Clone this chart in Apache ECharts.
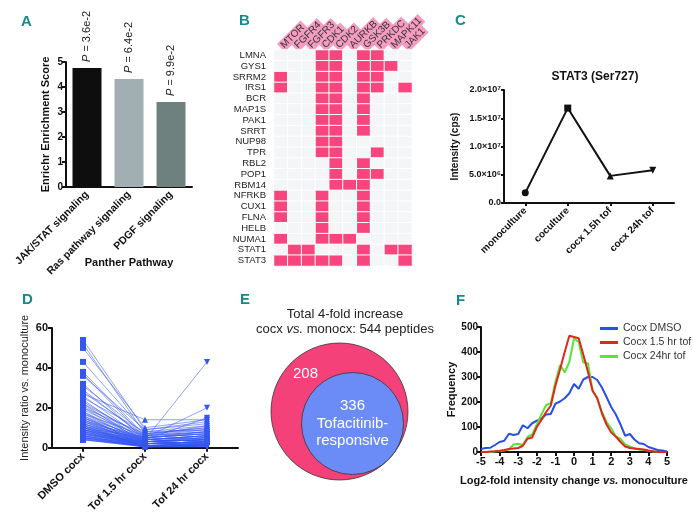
<!DOCTYPE html>
<html>
<head>
<meta charset="utf-8">
<script src="https://cdn.jsdelivr.net/npm/echarts@6/dist/echarts.min.js"></script>
<style>
  html, body { margin: 0; padding: 0; background: #fff; }
  #chart { width: 693px; height: 515px; }
</style>
</head>
<body>
<div id="chart"></div>
<script>
// ---- A: Enrichr scores
const pathways = ['JAK/STAT signaling', 'Ras pathway signaling', 'PDGF signaling'];
const enrichScores = [4.76, 4.32, 3.4];
const pValues = ['3.6e-2', '6.4e-2', '9.9e-2'];

// ---- B: kinase / substrate map
const kinases = ['MTOR', 'FGFR4', 'FGFR3', 'CDK1', 'CDK2', 'AURKB', 'GSK3B', 'PRKDC', 'MAPK11', 'JAK1'];
const substrates = ['LMNA', 'GYS1', 'SRRM2', 'IRS1', 'BCR', 'MAP1S', 'PAK1', 'SRRT', 'NUP98', 'TPR',
  'RBL2', 'POP1', 'RBM14', 'NFRKB', 'CUX1', 'FLNA', 'HELB', 'NUMA1', 'STAT1', 'STAT3'];
// kinase column indexes marked for each substrate row
const hits = [
  [3, 4, 6, 7],
  [3, 4, 6, 7, 8],
  [0, 3, 4, 6, 7],
  [0, 3, 4, 6, 7, 9],
  [3, 4, 6],
  [3, 4, 6],
  [3, 4, 6],
  [3, 4, 6],
  [3, 4],
  [3, 4, 7],
  [4, 6],
  [4, 6, 7],
  [4, 5, 6],
  [0, 3, 6],
  [0, 3, 6],
  [0, 3, 6],
  [3, 6],
  [0, 3, 4, 5],
  [1, 2, 6, 8, 9],
  [0, 1, 2, 3, 4, 6, 9]
];

// ---- C: STAT3 (Ser727)
const stat3Conditions = ['monoculture', 'coculture', 'cocx 1.5h tof', 'cocx 24h tof'];
const stat3Intensity = [1.8e6, 1.68e7, 4.8e6, 5.8e6];
const stat3Symbols = ['circle', 'rect', 'triangle', 'triangle'];
const stat3YLabels = ['0.0', '5.0×10⁶', '1.0×10⁷', '1.5×10⁷', '2.0×10⁷'];

// ---- D: per-peptide intensity ratios
const dConditions = ['DMSO cocx', 'Tof 1.5 hr cocx', 'Tof 24 hr cocx'];
const dmsoRatio = [
  54, 52, 50, 43, 38, 37, 36, 32, 31, 29,
  28, 27, 26, 25, 24, 23, 22, 22, 21, 20,
  20, 19, 18, 18, 17, 17, 16, 16, 15, 15,
  15, 14, 14, 14, 13, 13, 13, 12, 12, 12,
  12, 11, 11, 11, 11, 10, 10, 10, 10, 10,
  9, 9, 9, 9, 9, 8.5, 8, 8, 8, 8,
  7.5, 7, 7, 7, 7, 6.5, 6, 6, 6, 6,
  5.5, 5, 5, 5, 5, 4.5, 4.5, 4, 4, 4
];
const tof15Ratio = [
  9, 7, 10, 8, 6, 5, 9, 4, 7, 5,
  6, 14, 4, 8, 3, 5, 6, 2, 4, 7,
  3, 5, 4, 2, 6, 3, 4, 1, 5, 3,
  2, 4, 1, 3, 2, 5, 3, 1, 4, 2,
  3, 1, 2, 4, 0.5, 3, 1, 2, 5, 0.5,
  2, 4, 1, 3, 0.5, 2, 1, 3, 0.5, 2,
  1, 2, 0.5, 3, 1, 2, 0.5, 1, 2, 0.5,
  1, 0.5, 2, 1, 0.5, 1, 0.5, 1, 0.5, 0.3
];
const tof24Ratio = [
  12, 10, 14, 9, 11, 8, 13, 6, 10, 7,
  9, 14, 5, 11, 4, 7, 8, 3, 43, 9,
  4, 20, 6, 3, 8, 5, 15, 2, 7, 4,
  3, 6, 2, 5, 3, 8, 4, 2, 6, 3,
  5, 1.5, 3, 6, 1, 4, 2, 3, 7, 1,
  3, 5, 1.5, 4, 1, 3, 2, 4, 1, 3,
  1.5, 2, 1, 4, 1.5, 2, 1, 1.5, 3, 1,
  1.5, 1, 2, 1.5, 1, 1.5, 0.5, 1, 0.5, 0.5
];

// ---- E: Venn
const vennCounts = [544, 336];

// ---- F: log2 fold-change histograms
const fcBins = [-5, -4.75, -4.5, -4.25, -4, -3.75, -3.5, -3.25, -3, -2.75, -2.5, -2.25, -2, -1.75, -1.5, -1.25,
  -1, -0.75, -0.5, -0.25, 0, 0.25, 0.5, 0.75, 1, 1.25, 1.5, 1.75, 2, 2.25, 2.5, 2.75, 3, 3.25, 3.5, 3.75,
  4, 4.25, 4.5, 4.75, 5];
const freqDmso = [12, 16, 17, 28, 40, 45, 73, 68, 72, 107, 95, 115, 125, 133, 150, 152,
  193, 202, 215, 235, 272, 253, 290, 300, 300, 288, 258, 220, 180, 150, 110, 65, 72, 50, 35, 32,
  20, 14, 8, 6, 2];
const freqTof15 = [0, 0, 2, 3, 5, 8, 12, 14, 16, 25, 53, 58, 100, 128, 160, 185,
  265, 330, 400, 465, 460, 455, 390, 320, 245, 215, 155, 110, 78, 62, 40, 22, 16, 14, 12, 10,
  6, 3, 0, 0, 0];
const freqTof24 = [0, 0, 0, 2, 4, 6, 10, 30, 33, 28, 60, 70, 110, 150, 188, 195,
  280, 348, 318, 360, 455, 440, 358, 355, 245, 215, 160, 120, 95, 62, 52, 30, 22, 14, 10, 8,
  5, 2, 0, 0, 0];
const fSeriesNames = ['Cocx DMSO', 'Cocx 1.5 hr tof', 'Cocx 24hr tof'];

const FONT = '"Liberation Sans", Arial, sans-serif';
const INK = '#111';
const axisLine = { show: true, onZero: false, lineStyle: { color: INK, width: 2 } };
const tick = { show: true, length: 4, lineStyle: { color: INK, width: 2 } };
const boldLabel = (size) => ({ color: INK, fontWeight: 'bold', fontSize: size, fontFamily: FONT });
// panel letters: title box has 5px padding
const panelTitle = (text, left, top) => ({
  text, left, top,
  textStyle: { color: '#17898b', fontSize: 15, fontWeight: 'bold', fontFamily: FONT }
});

const chart = echarts.init(document.getElementById('chart'));

const cellData = [];
substrates.forEach((s, i) => {
  kinases.forEach((k, j) => cellData.push([j, i, hits[i].includes(j) ? 1 : 0]));
});

const dSeries = dmsoRatio.map((v, i) => ({
  type: 'line', xAxisIndex: 3, yAxisIndex: 3, silent: true,
  symbolSize: 6,
  data: [
    { value: v, symbol: 'rect' },
    { value: tof15Ratio[i], symbol: 'triangle' },
    { value: tof24Ratio[i], symbol: 'triangle', symbolRotate: 180 }
  ],
  lineStyle: { color: '#3557f0', width: 0.7, opacity: 0.8 },
  itemStyle: { color: '#3557f0' }
}));

const vennR = [137, 102];
const fColors = ['#2a4fe3', '#e3261a', '#5ce23c'];

const option = {
  animation: false,
  textStyle: { fontFamily: FONT },
  title: [
    panelTitle('A', 16, 9),
    panelTitle('B', 234, 8),
    panelTitle('C', 450, 8),
    panelTitle('D', 17, 287),
    panelTitle('E', 235, 287),
    panelTitle('F', 451, 288),
    { text: 'STAT3 (Ser727)', left: 590, top: 66, textAlign: 'center',
      textStyle: { fontSize: 12, fontWeight: 'bold', color: INK, fontFamily: FONT } },
    { text: 'Total 4-fold increase\ncocx {i|vs.} monocx: ' + vennCounts[0] + ' peptides',
      left: 340, top: 302, textAlign: 'center',
      textStyle: { fontSize: 13, fontWeight: 'normal', color: '#222', lineHeight: 15, fontFamily: FONT,
        rich: { i: { fontStyle: 'italic', fontSize: 13, color: '#222', fontFamily: FONT } } } }
  ],
  legend: {
    data: fSeriesNames, orient: 'vertical', left: 595, top: 318,
    itemWidth: 18, itemHeight: 3, itemGap: 3, icon: 'rect', selectedMode: false,
    textStyle: { fontSize: 10.5, color: '#333', fontFamily: FONT }
  },
  visualMap: {
    show: false, type: 'piecewise', seriesIndex: 1, dimension: 2,
    pieces: [{ value: 0, color: '#f4f5f7' }, { value: 1, color: '#f8457d' }]
  },
  grid: [
    { left: 66, top: 62, width: 126, height: 125 },
    { left: 274, top: 50, width: 138, height: 216 },
    { left: 504, top: 90, width: 170, height: 113 },
    { left: 52, top: 328, width: 186, height: 125 },
    { left: 240, top: 340, width: 200, height: 160 },
    { left: 481, top: 327, width: 186, height: 125 }
  ],
  xAxis: [
    { gridIndex: 0, type: 'category', data: pathways, axisLine, axisTick: { show: false },
      axisLabel: { ...boldLabel(10.5), rotate: 45, interval: 0, margin: 6 },
      name: 'Panther Pathway', nameLocation: 'middle', nameGap: 70, nameMoveOverlap: false,
      nameTextStyle: boldLabel(11) },
    { gridIndex: 1, type: 'category', data: kinases, position: 'top',
      axisLine: { show: false }, axisTick: { show: false },
      axisLabel: { rotate: -45, interval: 0, margin: 2,
        fontSize: 10, color: '#333', fontFamily: FONT,
        backgroundColor: '#f59cc0', padding: [1, 2, 0, 2] } },
    { gridIndex: 2, type: 'category', data: stat3Conditions, axisLine,
      axisTick: { ...tick, alignWithLabel: true, length: 3 },
      axisLabel: { ...boldLabel(10), rotate: 45, interval: 0, margin: 6 } },
    { gridIndex: 3, type: 'category', data: dConditions, axisLine,
      axisTick: { ...tick, alignWithLabel: true },
      axisLabel: { ...boldLabel(11), rotate: 45, interval: 0, margin: 7 } },
    { gridIndex: 4, type: 'value', min: 0, max: 200, show: false },
    { gridIndex: 5, type: 'value', min: -5, max: 5, interval: 1, axisLine, axisTick: tick,
      splitLine: { show: false }, axisLabel: { ...boldLabel(11), margin: 4 },
      name: 'Log2-fold intensity change {i|vs.} monoculture', nameLocation: 'middle', nameGap: 23,
      nameMoveOverlap: false,
      nameTextStyle: { ...boldLabel(11), rich: { i: { ...boldLabel(11), fontStyle: 'italic' } } } }
  ],
  yAxis: [
    { gridIndex: 0, type: 'value', min: 0, max: 5, interval: 1, axisLine, axisTick: tick,
      splitLine: { show: false }, axisLabel: { ...boldLabel(10), margin: 3 },
      name: 'Enrichr Enrichment Score', nameLocation: 'middle', nameGap: 15, nameMoveOverlap: false,
      nameTextStyle: boldLabel(11) },
    { gridIndex: 1, type: 'category', data: substrates, inverse: true,
      axisLine: { show: false }, axisTick: { show: false },
      axisLabel: { interval: 0, fontSize: 9.5, color: '#222', margin: 8, fontFamily: FONT } },
    { gridIndex: 2, type: 'value', min: 0, max: 2e7, interval: 5e6, axisLine, axisTick: { ...tick, length: 3 },
      splitLine: { show: false },
      axisLabel: { ...boldLabel(9), margin: 3, formatter: (v) => stat3YLabels[Math.round(v / 5e6)] },
      name: 'Intensity (cps)', nameLocation: 'middle', nameGap: 44, nameMoveOverlap: false,
      nameTextStyle: boldLabel(10) },
    { gridIndex: 3, type: 'value', min: 0, max: 60, interval: 20, axisLine, axisTick: tick,
      splitLine: { show: false }, axisLabel: { ...boldLabel(11), margin: 4 },
      name: 'Intensity ratio vs. monoculture', nameLocation: 'middle', nameGap: 22, nameMoveOverlap: false,
      nameTextStyle: { fontSize: 11, color: '#222', fontFamily: FONT } },
    { gridIndex: 4, type: 'value', min: 0, max: 160, inverse: true, show: false },
    { gridIndex: 5, type: 'value', min: 0, max: 500, interval: 100, axisLine, axisTick: tick,
      splitLine: { show: false }, axisLabel: { ...boldLabel(10), margin: 3 },
      name: 'Frequency', nameLocation: 'middle', nameGap: 24, nameMoveOverlap: false,
      nameTextStyle: boldLabel(11) }
  ],
  series: [
    { type: 'bar', xAxisIndex: 0, yAxisIndex: 0, barWidth: 29,
      data: enrichScores.map((v, i) => ({ value: v, itemStyle: { color: ['#0e0e0e', '#a1afb3', '#6f817f'][i] } })),
      label: { show: true, position: 'top', rotate: 90, align: 'left', verticalAlign: 'middle', distance: 6,
        fontSize: 11, color: '#222', fontFamily: FONT,
        formatter: (p) => '{i|P} = ' + pValues[p.dataIndex],
        rich: { i: { fontStyle: 'italic', fontSize: 11, color: '#222', fontFamily: FONT } } } },
    { type: 'heatmap', xAxisIndex: 1, yAxisIndex: 1, data: cellData,
      itemStyle: { borderColor: '#ffffff', borderWidth: 1 }, silent: true },
    { type: 'line', xAxisIndex: 2, yAxisIndex: 2, symbolSize: 7,
      data: stat3Intensity.map((v, i) => ({ value: v, symbol: stat3Symbols[i], symbolRotate: i === 3 ? 180 : 0 })),
      lineStyle: { color: INK, width: 2 }, itemStyle: { color: INK } },
    { type: 'scatter', xAxisIndex: 4, yAxisIndex: 4, silent: true,
      data: [
        { value: [99.5, 71.5], symbolSize: vennR[0],
          itemStyle: { color: '#f4417a', opacity: 1, borderColor: '#333', borderWidth: 0.8 },
          label: { show: true, position: 'inside', offset: [-34, -38], fontSize: 15, color: '#fff',
            formatter: () => String(vennCounts[0] - vennCounts[1]) } },
        { value: [112.5, 83.5], symbolSize: vennR[1],
          itemStyle: { color: '#6b8cf6', opacity: 1, borderColor: '#333', borderWidth: 0.8 },
          label: { show: true, position: 'inside', fontSize: 15, lineHeight: 17.5, color: '#fff',
            formatter: () => vennCounts[1] + '\nTofacitinib-\nresponsive' } }
      ] },
    ...[freqDmso, freqTof15, freqTof24].map((arr, k) => ({
      type: 'line', name: fSeriesNames[k], xAxisIndex: 5, yAxisIndex: 5, showSymbol: false,
      data: fcBins.map((x, i) => [x, arr[i]]),
      lineStyle: { width: 2, color: fColors[k] },
      itemStyle: { color: fColors[k] },
      z: [3, 4, 3][k]
    })),
    ...dSeries
  ]
};

chart.setOption(option);
</script>
</body>
</html>
